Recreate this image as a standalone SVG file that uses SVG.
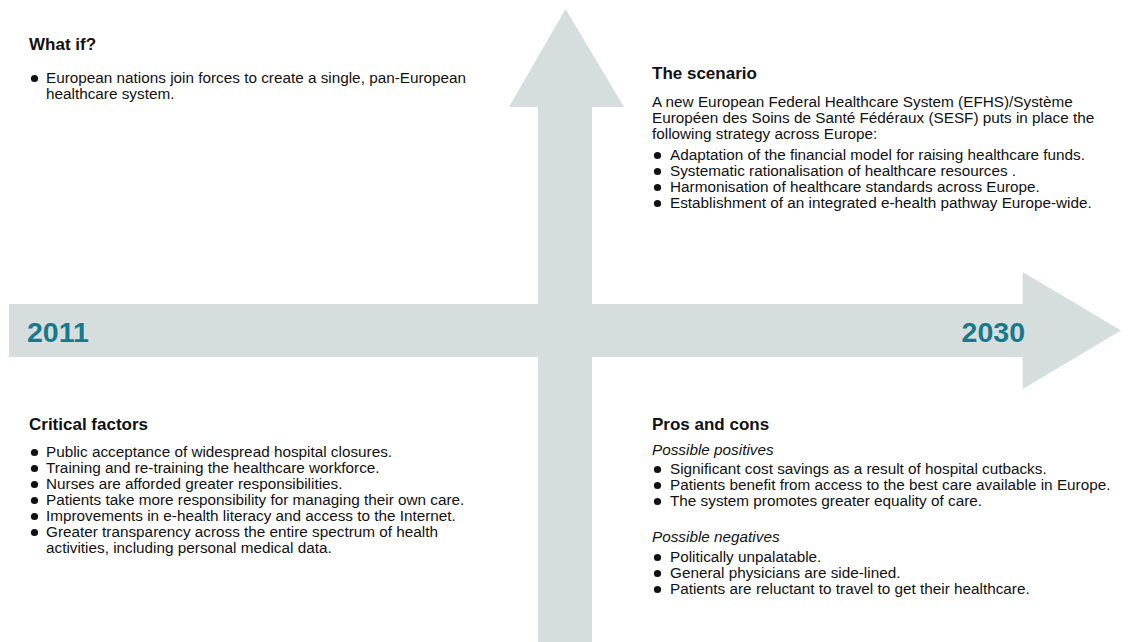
<svg xmlns="http://www.w3.org/2000/svg" width="1128" height="642" viewBox="0 0 1128 642">
<style>
.arrow{fill:#d5dedd}
.h{font-family:"Liberation Sans",Arial,sans-serif;font-weight:bold;font-size:17px;fill:#111}
.t{font-family:"Liberation Sans",Arial,sans-serif;font-size:15.3px;fill:#111}
.i{font-family:"Liberation Sans",Arial,sans-serif;font-size:15.3px;font-style:italic;fill:#111}
.yr{font-family:"Liberation Sans",Arial,sans-serif;font-weight:bold;font-size:28.5px;fill:#17798d}
.b{fill:#111}
</style>
<defs>
<circle id="dot" r="3.6" class="b"/>
</defs>
<rect width="1128" height="642" fill="#fff"/>
<g id="arrows">
<polygon class="arrow" points="565.5,9 624,107 592,107 592,642 538,642 538,107 509,107"/>
<polygon class="arrow" points="9,304 1022.7,304 1022.7,272 1121,330.5 1022.7,389 1022.7,357 9,357"/>
</g>
<g id="years">
<text class="yr" x="27" y="342">2011</text>
<text class="yr" x="1025" y="342" text-anchor="end">2030</text>
</g>
<g id="what-if">
<text class="h" x="29" y="50">What if?</text>
<use href="#dot" x="34.5" y="78.5"/>
<text class="t" x="46" y="83">European nations join forces to create a single, pan-European</text>
<text class="t" x="46" y="99">healthcare system.</text>
</g>
<g id="scenario">
<text class="h" x="652" y="79">The scenario</text>
<text class="t" x="652" y="107">A new European Federal Healthcare System (EFHS)/Système</text>
<text class="t" x="652" y="123">Européen des Soins de Santé Fédéraux (SESF) puts in place the</text>
<text class="t" x="652" y="139">following strategy across Europe:</text>
<use href="#dot" x="657.5" y="155.5"/>
<text class="t" x="670" y="160">Adaptation of the financial model for raising healthcare funds.</text>
<use href="#dot" x="657.5" y="171.5"/>
<text class="t" x="670" y="176">Systematic rationalisation of healthcare resources .</text>
<use href="#dot" x="657.5" y="187.5"/>
<text class="t" x="670" y="192">Harmonisation of healthcare standards across Europe.</text>
<use href="#dot" x="657.5" y="203.5"/>
<text class="t" x="670" y="208">Establishment of an integrated e-health pathway Europe-wide.</text>
</g>
<g id="critical-factors">
<text class="h" x="29" y="430">Critical factors</text>
<use href="#dot" x="34.5" y="452.5"/>
<text class="t" x="46" y="457">Public acceptance of widespread hospital closures.</text>
<use href="#dot" x="34.5" y="468.5"/>
<text class="t" x="46" y="473">Training and re-training the healthcare workforce.</text>
<use href="#dot" x="34.5" y="484.5"/>
<text class="t" x="46" y="489">Nurses are afforded greater responsibilities.</text>
<use href="#dot" x="34.5" y="500.5"/>
<text class="t" x="46" y="505">Patients take more responsibility for managing their own care.</text>
<use href="#dot" x="34.5" y="516.5"/>
<text class="t" x="46" y="521">Improvements in e-health literacy and access to the Internet.</text>
<use href="#dot" x="34.5" y="532.5"/>
<text class="t" x="46" y="537">Greater transparency across the entire spectrum of health</text>
<text class="t" x="46" y="553">activities, including personal medical data.</text>
</g>
<g id="pros-cons">
<text class="h" x="652" y="430">Pros and cons</text>
<text class="i" x="652" y="455">Possible positives</text>
<use href="#dot" x="657.5" y="469.5"/>
<text class="t" x="670" y="474">Significant cost savings as a result of hospital cutbacks.</text>
<use href="#dot" x="657.5" y="485.5"/>
<text class="t" x="670" y="490">Patients benefit from access to the best care available in Europe.</text>
<use href="#dot" x="657.5" y="501.5"/>
<text class="t" x="670" y="506">The system promotes greater equality of care.</text>
<text class="i" x="652" y="542">Possible negatives</text>
<use href="#dot" x="657.5" y="557.5"/>
<text class="t" x="670" y="562">Politically unpalatable.</text>
<use href="#dot" x="657.5" y="573.5"/>
<text class="t" x="670" y="578">General physicians are side-lined.</text>
<use href="#dot" x="657.5" y="589.5"/>
<text class="t" x="670" y="594">Patients are reluctant to travel to get their healthcare.</text>
</g>
</svg>
